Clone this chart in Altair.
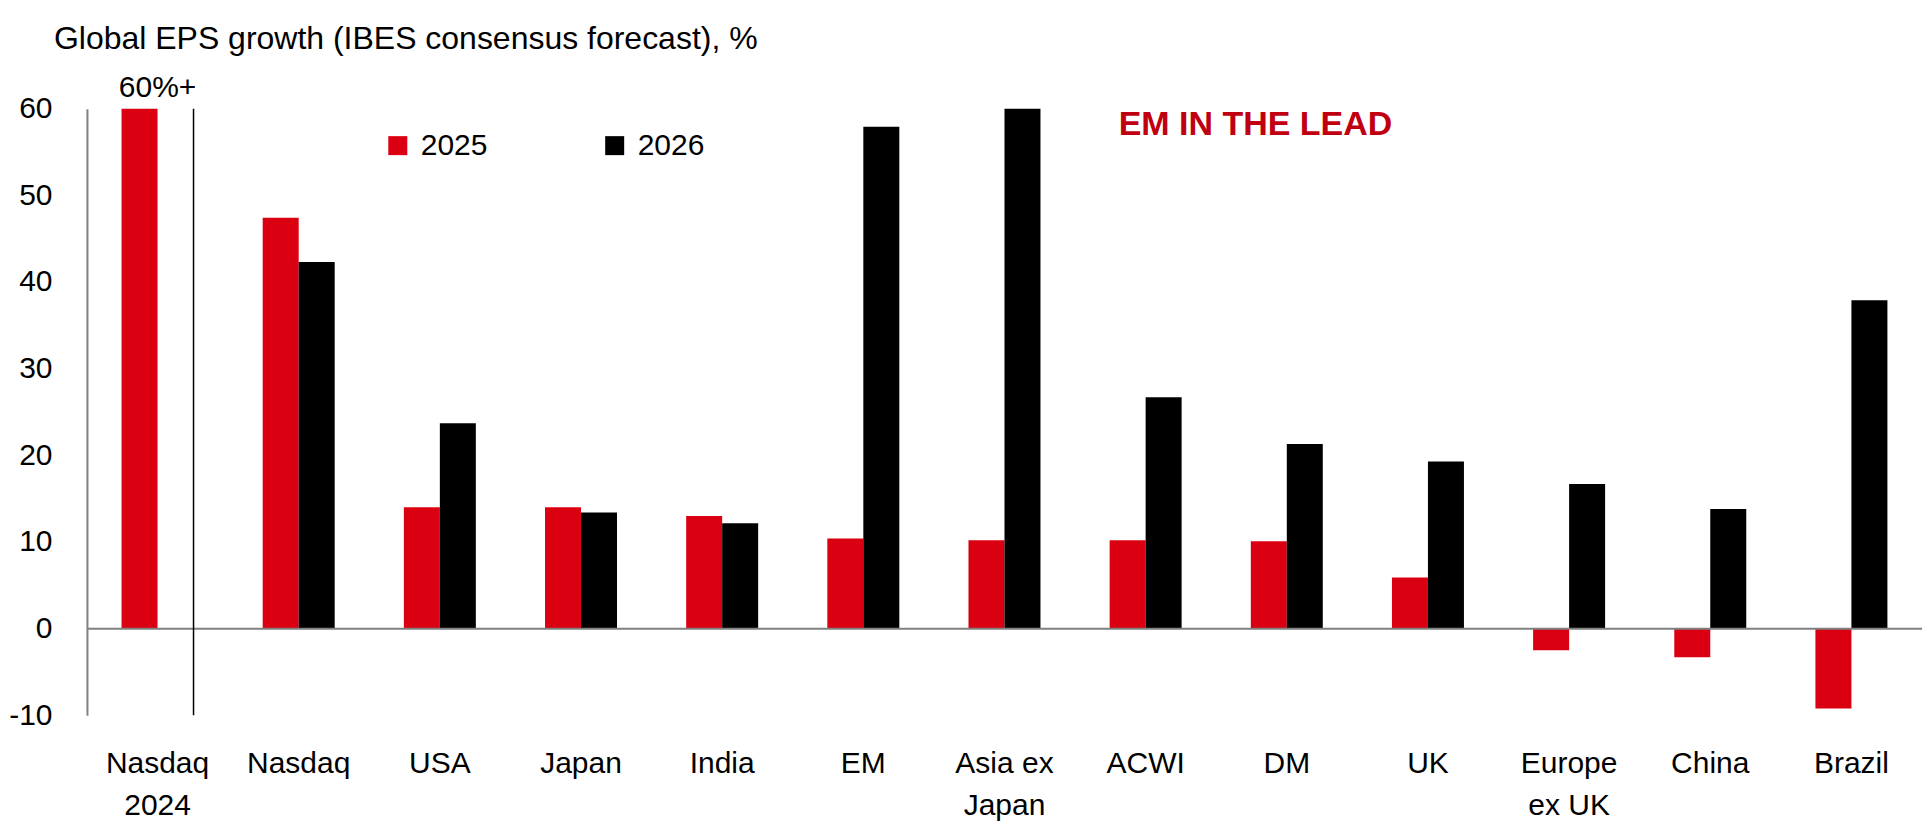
import altair as alt
import pandas as pd

# ---- data ----
categories = ["Nasdaq 2024", "Nasdaq", "USA", "Japan", "India", "EM", "Asia ex Japan",
              "ACWI", "DM", "UK", "Europe ex UK", "China", "Brazil"]
tick_lines = [["Nasdaq", "2024"], ["Nasdaq"], ["USA"], ["Japan"], ["India"], ["EM"],
              ["Asia ex", "Japan"], ["ACWI"], ["DM"], ["UK"], ["Europe", "ex UK"],
              ["China"], ["Brazil"]]
series = ["2025", "2026"]
eps_2025 = [60.0, 47.4, 14.0, 14.0, 13.0, 10.4, 10.2, 10.2, 10.1, 5.9, -2.5, -3.3, -9.2]
eps_2026 = [None, 42.3, 23.7, 13.4, 12.15, 57.9, 60.0, 26.7, 21.3, 19.3, 16.7, 13.8, 37.9]
y_ticks = [-10, 0, 10, 20, 30, 40, 50, 60]
colors = ["#DB0011", "#000000"]
title_text = "Global EPS growth (IBES consensus forecast), %"
cap_label = "60%+"
callout = "EM IN THE LEAD"

rows = []
for c, a, b in zip(categories, eps_2025, eps_2026):
    if a is not None:
        rows.append({"category": c, "series": series[0], "value": a})
    if b is not None:
        rows.append({"category": c, "series": series[1], "value": b})
df = pd.DataFrame(rows)

FONT = "Liberation Sans, Arial, Helvetica, sans-serif"
W, H = 1836, 607

parts = []
for c, lines in zip(categories, tick_lines):
    if len(lines) > 1:
        arr = "[" + ",".join("'" + l + "'" for l in lines) + "]"
        parts.append("datum.value == '" + c + "' ? " + arr + " : ")
label_expr = "".join(parts) + "datum.value"

x_scale = alt.Scale(domain=categories, paddingInner=0.49, paddingOuter=0.245)
y_scale = alt.Scale(domain=[-10, 60], nice=False, zero=False)

bars = alt.Chart(df).mark_bar().encode(
    x=alt.X("category:N", sort=categories, scale=x_scale,
            axis=alt.Axis(title=None, labelAngle=0, domain=False, ticks=False, tickSize=0,
                          labelFont=FONT, labelFontSize=30, labelColor="#000000",
                          labelLineHeight=42, labelPadding=33, labelBaseline="top",
                          labelExpr=label_expr)),
    xOffset=alt.XOffset("series:N", scale=alt.Scale(domain=series, paddingInner=0, paddingOuter=0)),
    y=alt.Y("value:Q", scale=y_scale,
            axis=alt.Axis(title=None, values=y_ticks, domain=True, domainColor="#808080",
                          domainWidth=2, ticks=False, tickSize=0, grid=False,
                          labelFont=FONT, labelFontSize=30, labelColor="#000000",
                          labelPadding=35, labelExpr="'' + datum.value")),
    color=alt.Color("series:N", scale=alt.Scale(domain=series, range=colors),
                    legend=alt.Legend(orient="none", legendX=296, legendY=22,
                                      direction="horizontal", title=None,
                                      symbolType="square", symbolSize=361,
                                      symbolStrokeWidth=0, symbolOpacity=1,
                                      labelFont=FONT, labelFontSize=30,
                                      labelColor="#000000", labelOffset=8,
                                      columnPadding=112, padding=0)),
)

zero_line = alt.Chart(pd.DataFrame({"y": [0]})).mark_rule(color="#808080", strokeWidth=2).encode(
    y=alt.Y("y:Q", scale=y_scale), x=alt.value(0), x2=alt.value(W))

divider = alt.Chart(pd.DataFrame({"category": [categories[0]], "top": [60], "bottom": [-10]})).mark_rule(
    color="#000000", strokeWidth=1.5).encode(
    x=alt.X("category:N", sort=categories, scale=x_scale, bandPosition=1),
    y=alt.Y("top:Q", scale=y_scale), y2="bottom:Q")

cap_text = alt.Chart(pd.DataFrame({"category": [categories[0]], "v": [60], "t": [cap_label]})).mark_text(
    font=FONT, fontSize=30, color="#000000", baseline="alphabetic", dy=-12).encode(
    x=alt.X("category:N", sort=categories, scale=x_scale),
    y=alt.Y("v:Q", scale=y_scale), text="t:N")

callout_text = alt.Chart(pd.DataFrame({"category": ["ACWI"], "v": [57.0], "t": [callout]})).mark_text(
    font=FONT, fontSize=34, fontWeight="bold", color="#C00010", align="left",
    baseline="alphabetic", dx=-27).encode(
    x=alt.X("category:N", sort=categories, scale=x_scale),
    y=alt.Y("v:Q", scale=y_scale), text="t:N")

chart = alt.layer(bars, zero_line, divider, cap_text, callout_text).properties(
    width=W, height=H,
    padding={"left": 0, "top": 14.5, "right": 0, "bottom": 0},
    title=alt.TitleParams(title_text, anchor="start", frame="group", dx=-33,
                          fontSize=32, font=FONT, fontWeight="normal",
                          color="#000000", baseline="alphabetic", offset=-8),
).configure_view(stroke=None)

chart.save("out.html", embed_options={"renderer": "svg", "actions": False})
